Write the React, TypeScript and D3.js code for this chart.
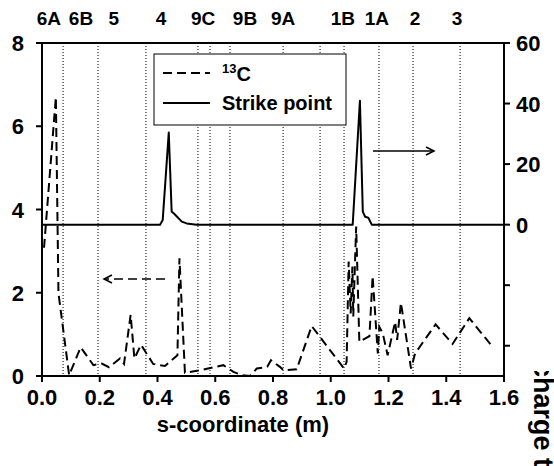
import React from "react";
import * as d3 from "d3";

// 13C deposition profile along the s-coordinate (left axis)
const c13S = [0.007, 0.048, 0.057, 0.094, 0.134, 0.178, 0.207, 0.232, 0.270, 0.284, 0.307, 0.320, 0.343, 0.385, 0.426, 0.469, 0.476, 0.495, 0.541, 0.628, 0.663, 0.692, 0.720, 0.744, 0.780, 0.793, 0.824, 0.836, 0.882, 0.934, 1.046, 1.055, 1.062, 1.069, 1.075, 1.078, 1.088, 1.099, 1.134, 1.145, 1.163, 1.168, 1.180, 1.197, 1.223, 1.230, 1.243, 1.278, 1.292, 1.363, 1.422, 1.480, 1.557];
const c13Val = [3.08, 6.70, 1.99, 0.02, 0.69, 0.26, 0.30, 0.21, 0.42, 0.29, 1.47, 0.42, 0.75, 0.29, 0.24, 0.50, 2.83, 0.08, 0.13, 0.26, 0.10, 0.02, 0.0, 0.18, 0.22, 0.38, 0.22, 0.14, 0.16, 1.20, 0.18, 0.34, 2.75, 1.50, 2.63, 1.43, 3.59, 0.82, 0.96, 2.40, 0.54, 1.18, 1.03, 0.50, 1.30, 0.87, 1.76, 0.18, 0.54, 1.24, 0.77, 1.39, 0.73];

// Strike point time on the right axis
const strikeS = [0.0, 0.409, 0.418, 0.439, 0.449, 0.457, 0.484, 0.501, 0.536, 1.076, 1.101, 1.111, 1.119, 1.130, 1.142, 1.6];
const strikeVal = [0, 0, 1.5, 30.4, 4.3, 3.7, 1.0, 0.4, 0, 0, 40.9, 4.3, 2.6, 2.3, 0, 0];

// Tile region names and the boundaries between them
const regionNames = ["6A", "6B", "5", "4", "9C", "9B", "9A", "1B", "1A", "2", "3"];
const regionNameS = [0.024, 0.135, 0.249, 0.412, 0.558, 0.703, 0.835, 1.042, 1.160, 1.292, 1.437];
const regionBounds = [0.073, 0.194, 0.360, 0.540, 0.582, 0.651, 0.835, 0.963, 1.046, 1.167, 1.285, 1.448];

const xTicks = [0, 0.2, 0.4, 0.6, 0.8, 1.0, 1.2, 1.4, 1.6];
const leftTicks = [0, 2, 4, 6, 8];
const rightTicks = [-40, -20, 0, 20, 40, 60];

const FONT = "'Liberation Sans', Arial, Helvetica, sans-serif";

export default function App() {
  const W = 554, H = 466;
  const x = d3.scaleLinear().domain([0, 1.6]).range([42, 504]);
  const yL = d3.scaleLinear().domain([0, 8]).range([376, 43]);
  const yR = d3.scaleLinear().domain([-50, 60]).range([376, 43]);

  const c13Line = d3.line<number>().x((_, i) => x(c13S[i])).y((v) => yL(v));
  const strikeLine = d3.line<number>().x((_, i) => x(strikeS[i])).y((v) => yR(v));

  const [x0, x1] = x.range();
  const yTop = 43, yBot = 376;

  return (
    <svg width={W} height={H} style={{ position: "absolute", left: 0, top: 0, background: "#fff" }} fontFamily={FONT}>
      <defs>
        <clipPath id="titleClip">
          <rect x={500} y={371} width={60} height={100} />
        </clipPath>
      </defs>

      {/* region boundaries */}
      {regionBounds.map((s, i) => (
        <line key={"b" + i} x1={x(s)} x2={x(s)} y1={yTop} y2={yBot} stroke="#000" strokeWidth={1} strokeDasharray="1,2" />
      ))}

      {/* region names */}
      {regionNames.map((n, i) => (
        <text key={"n" + i} x={x(regionNameS[i])} y={25} textAnchor="middle" fontSize={19} fontWeight="bold">{n}</text>
      ))}

      {/* data */}
      <path d={strikeLine(strikeVal) || ""} fill="none" stroke="#000" strokeWidth={2} strokeLinejoin="round" />
      <path d={c13Line(c13Val) || ""} fill="none" stroke="#000" strokeWidth={2} strokeDasharray="9,5" />

      {/* direction arrows */}
      <g stroke="#000" strokeWidth={1.5} fill="none">
        <line x1={165} x2={104} y1={279} y2={279} strokeDasharray="9,5" />
        <polyline points="112,275 104,279 112,283" />
        <line x1={373} x2={434} y1={151} y2={151} />
        <polyline points="426,147 434,151 426,155" />
      </g>

      {/* legend */}
      <rect x={154} y={54} width={192} height={71} fill="#fff" stroke="#000" strokeWidth={1} />
      <line x1={163} x2={210} y1={73} y2={73} stroke="#000" strokeWidth={2} strokeDasharray="9,5" />
      <text x={222} y={81} fontSize={20} fontWeight="bold">
        <tspan fontSize={13} dy={-8}>13</tspan>
        <tspan dy={8}>C</tspan>
      </text>
      <line x1={163} x2={210} y1={103} y2={103} stroke="#000" strokeWidth={2} />
      <text x={222} y={110} fontSize={20} fontWeight="bold">Strike point</text>

      {/* frame */}
      <g stroke="#000" strokeWidth={2} fill="none">
        <line x1={x0} x2={x1} y1={yTop} y2={yTop} />
        <line x1={x0} x2={x1} y1={yBot} y2={yBot} />
        <line x1={x0} x2={x0} y1={yTop} y2={yBot} />
        <line x1={x1} x2={x1} y1={yTop} y2={yBot} />
      </g>

      {/* bottom axis */}
      {xTicks.map((t) => (
        <g key={"x" + t}>
          <line x1={x(t)} x2={x(t)} y1={yBot} y2={yBot + 6} stroke="#000" strokeWidth={2} />
          <text x={x(t)} y={405} textAnchor="middle" fontSize={22} fontWeight="bold">{t.toFixed(1)}</text>
        </g>
      ))}
      <text x={243} y={432} textAnchor="middle" fontSize={22} fontWeight="bold">s-coordinate (m)</text>

      {/* left axis */}
      {leftTicks.map((t) => (
        <g key={"l" + t}>
          <line x1={x0 - 6} x2={x0} y1={yL(t)} y2={yL(t)} stroke="#000" strokeWidth={2} />
          <text x={24} y={yL(t) + 8} textAnchor="end" fontSize={22} fontWeight="bold">{t}</text>
        </g>
      ))}

      {/* right axis */}
      {rightTicks.map((t) => (
        <g key={"r" + t}>
          <line x1={x1} x2={x1 + 6} y1={yR(t)} y2={yR(t)} stroke="#000" strokeWidth={2} />
          {t >= 0 && (
            <text x={516} y={yR(t) + 8} fontSize={22} fontWeight="bold">{t}</text>
          )}
        </g>
      ))}
      <g clipPath="url(#titleClip)">
        <text transform="translate(534,320) rotate(90)" fontSize={27} fontWeight="bold">Discharge time (s)</text>
      </g>
    </svg>
  );
}
